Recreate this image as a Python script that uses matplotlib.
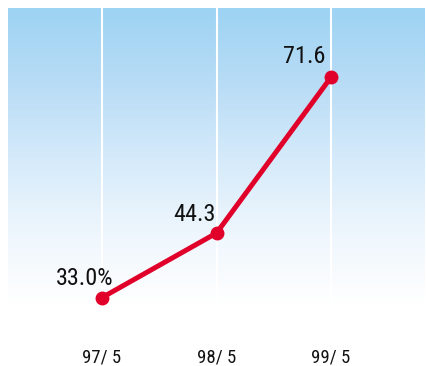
import numpy as np
import matplotlib.pyplot as plt
from matplotlib.colors import LinearSegmentedColormap

# data
periods = ["97/ 5", "98/ 5", "99/ 5"]
rates = [33.0, 44.3, 71.6]
point_labels = ["33.0%", "44.3", "71.6"]

# label offsets (points) relative to each marker
label_offsets = [(8, 9), (-1, 9), (-4, 10)]

plt.rcParams["font.family"] = ["Roboto Condensed", "Liberation Sans Narrow",
                               "Liberation Sans", "DejaVu Sans"]

W, H = 427, 366
fig = plt.figure(figsize=(W / 100, H / 100), dpi=100)
left, right, top, bottom = 8, 425, 8, 305
ax = fig.add_axes([left / W, 1 - bottom / H, (right - left) / W, (bottom - top) / H])

x = np.arange(len(periods))
ax.set_xlim(-0.821, 2.82)
ax.set_ylim(31.7, 83.7)

# sky gradient background: blue at top fading to white
cmap = LinearSegmentedColormap.from_list(
    "sky", ["#ffffff", "#eef6fd", "#d4eafa", "#b8dcf6", "#9dd3f3"])
grad = np.linspace(0, 1, 256).reshape(-1, 1)
ax.imshow(grad, cmap=cmap, aspect="auto", origin="lower",
          extent=[-0.821, 2.82, 31.7, 83.7], zorder=0)

for xi in x:
    ax.axvline(xi, color="white", lw=1.5, zorder=1)

ax.plot(x, rates, color="#e0002a", lw=3.6, marker="o", ms=9,
        solid_capstyle="round", zorder=3)

for xi, v, lab, off in zip(x, rates, point_labels, label_offsets):
    ax.annotate(lab, (xi, v), xytext=off, textcoords="offset points",
                ha="right", va="baseline", fontsize=17.5, color="#111111",
                fontstretch="condensed")

ax.set_xticks(x)
ax.set_xticklabels(periods, fontsize=13.5, color="#111111",
                   fontstretch="condensed")
ax.tick_params(axis="x", length=0, pad=31)
ax.set_yticks([])
for s in ax.spines.values():
    s.set_visible(False)

fig.savefig("out.png", dpi=100)
